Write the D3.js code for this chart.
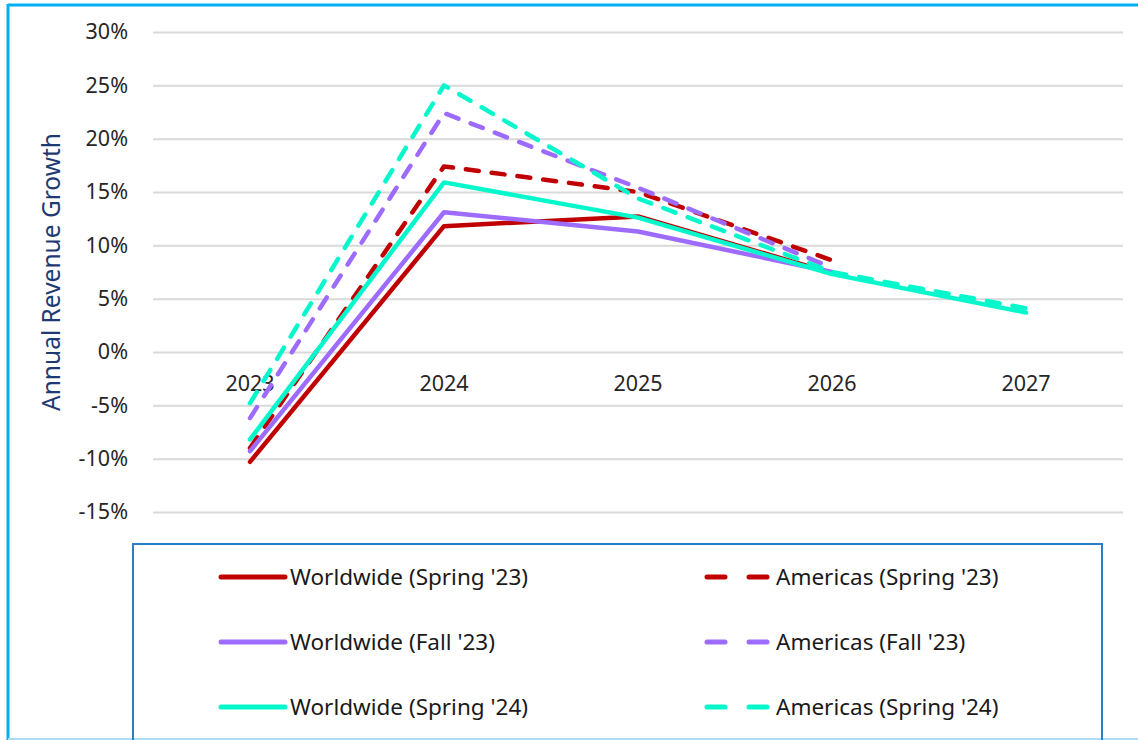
<!DOCTYPE html>
<html>
<head>
<meta charset="utf-8">
<script src="https://cdn.jsdelivr.net/npm/d3@7"></script>
<style>
  body { margin: 0; background: #fff; }
  svg { display: block; font-family: "Noto Sans", "Open Sans", sans-serif; }
</style>
</head>
<body>
<svg id="chart" width="1138" height="740"></svg>
<script>
// chart data
const years = ["2023", "2024", "2025", "2026", "2027"];
const seriesNames = [
  "Worldwide (Spring '23)", "Americas (Spring '23)",
  "Worldwide (Fall '23)", "Americas (Fall '23)",
  "Worldwide (Spring '24)", "Americas (Spring '24)"
];
const worldwideSpring23 = [-10.3, 11.8, 12.7, 7.4, null];
const americasSpring23  = [-9.0, 17.4, 15.0, 8.6, null];
const worldwideFall23   = [-9.3, 13.1, 11.3, 7.5, null];
const americasFall23    = [-6.2, 22.4, 15.4, 7.9, null];
const worldwideSpring24 = [-8.2, 15.9, 12.6, 7.3, 3.7];
const americasSpring24  = [-4.8, 25.0, 14.4, 7.5, 4.1];
const yTicks = [-15, -10, -5, 0, 5, 10, 15, 20, 25, 30];

const seriesValues = [worldwideSpring23, americasSpring23, worldwideFall23,
                      americasFall23, worldwideSpring24, americasSpring24];
const colors = ["#C00000", "#C00000", "#9D6CFF", "#9D6CFF", "#07F7CC", "#07F7CC"];
const dashed = [false, true, false, true, false, true];

const svg = d3.select("#chart");

// outer frame (only top and left edges show in the crop)
svg.append("line").attr("x1", 8).attr("x2", 1138).attr("y1", 5).attr("y2", 5)
  .attr("stroke", "#00B0F0").attr("stroke-width", 3);
svg.append("line").attr("x1", 8).attr("x2", 8).attr("y1", 4).attr("y2", 740)
  .attr("stroke", "#00B0F0").attr("stroke-width", 3);
svg.append("line").attr("x1", 8).attr("x2", 1138).attr("y1", 739).attr("y2", 739)
  .attr("stroke", "#A9DDF3").attr("stroke-width", 2);

const x = d3.scaleBand().domain(years).range([153, 1123]);
const y = d3.scaleLinear().domain([-15, 30]).range([512, 32]);

// gridlines + y tick labels
const yAxis = svg.append("g")
  .attr("transform", "translate(153,0)")
  .call(d3.axisLeft(y).tickValues(yTicks).tickSize(-970).tickPadding(25)
    .tickFormat(d => d + "%"));
yAxis.select(".domain").remove();
yAxis.selectAll("line").attr("stroke", "#D9D9D9").attr("stroke-width", 2);
yAxis.selectAll("text").attr("font-size", 21.5).attr("fill", "#262626")
  .attr("font-family", "Noto Sans");

// y axis title
svg.append("text")
  .attr("transform", "translate(60,272) rotate(-90)")
  .attr("text-anchor", "middle")
  .attr("font-size", 24.5)
  .attr("fill", "#1F3A73")
  .text("Annual Revenue Growth");

// category labels sit next to the 0% line
const xAxis = svg.append("g")
  .attr("transform", `translate(0,${y(0)})`)
  .call(d3.axisBottom(x).tickSize(0).tickPadding(24));
xAxis.select(".domain").remove();
xAxis.selectAll("text").attr("font-size", 21.5).attr("fill", "#262626")
  .attr("font-family", "Noto Sans");

// lines
const line = d3.line()
  .defined(d => d.v !== null)
  .x(d => x(d.year) + x.bandwidth() / 2)
  .y(d => y(d.v));

seriesValues.forEach((vals, i) => {
  svg.append("path")
    .datum(years.map((yr, j) => ({ year: yr, v: vals[j] })))
    .attr("d", line)
    .attr("fill", "none")
    .attr("stroke", colors[i])
    .attr("stroke-width", 4.5)
    .attr("stroke-linejoin", "round")
    .attr("stroke-linecap", "round")
    .attr("stroke-dasharray", dashed[i] ? "13,13" : null);
});

// legend box
svg.append("rect")
  .attr("x", 133).attr("y", 544).attr("width", 969).attr("height", 210)
  .attr("fill", "none").attr("stroke", "#2A7DC9").attr("stroke-width", 2);

const legend = svg.append("g");
seriesNames.forEach((name, i) => {
  const col = i % 2, row = Math.floor(i / 2);
  const lx = col === 0 ? 221 : 707;
  const ly = 577 + row * 65;
  legend.append("line")
    .attr("x1", lx).attr("x2", lx + 64).attr("y1", ly).attr("y2", ly)
    .attr("stroke", colors[i]).attr("stroke-width", 5)
    .attr("stroke-linecap", "round")
    .attr("stroke-dasharray", dashed[i] ? "18,24" : null);
  legend.append("text")
    .attr("x", lx + 69).attr("y", ly).attr("dy", "0.35em")
    .attr("font-size", 22.5).attr("fill", "#1a1a1a")
    .text(name);
});
</script>
</body>
</html>
